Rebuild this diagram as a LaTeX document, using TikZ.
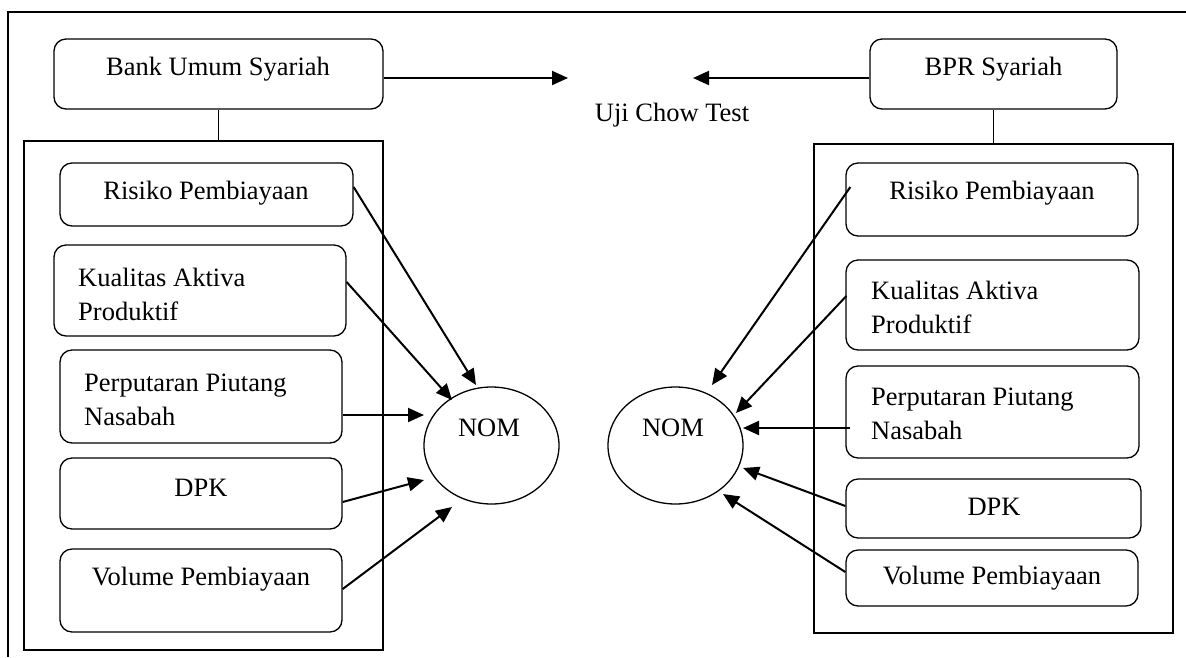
\documentclass[tikz,border=0pt]{standalone}
\usepackage{fontspec}
\setmainfont{Liberation Serif}
\usetikzlibrary{arrows.meta,shapes.geometric}
\begin{document}
\begin{tikzpicture}[x=1pt,y=-1pt,
  every node/.style={font=\fontsize{26.5}{34}\selectfont},
  sz/.style 2 args={minimum width=#1,minimum height=#2},
  box/.style={draw,rounded corners=12pt,line width=1.3pt,inner sep=0pt},
  panel/.style={draw,line width=1.4pt,inner sep=0pt},
  txt/.style={inner sep=0pt},
  multi/.style={inner sep=0pt,align=left,anchor=west},
  arr/.style={line width=2pt,-{Triangle[length=16pt,width=14pt]}},
  oval/.style={draw,ellipse,line width=1.3pt,minimum width=135pt,minimum height=117pt,inner sep=0pt}
]
\useasboundingbox (0,0) rectangle (1186,657);

% open outer frame (left and top edges)
\draw[line width=1.4pt] (8,657) -- (8,12) -- (1186,12);

% ---- left group: Bank Umum Syariah ----
\node[box,sz={329pt}{70pt}] (bank) at (218.5,74) {};
\node[txt] (bankT) at (218,69) {Bank Umum Syariah};
\node[panel,sz={359pt}{509pt}] (contL) at (203.5,395.5) {};
\node[box,sz={293pt}{63pt}] (risL) at (206.5,194.5) {};
\node[txt] (risLT) at (206,193) {Risiko Pembiayaan};
\node[box,sz={292pt}{91pt}] (kuaL) at (200,290.5) {};
\node[multi] (kuaLT) at (78,294) {Kualitas Aktiva\\Produktif};
\node[box,sz={282pt}{93pt}] (perL) at (201,396.5) {};
\node[multi] (perLT) at (84,399.5) {Perputaran Piutang\\Nasabah};
\node[box,sz={282pt}{71pt}] (dpkL) at (201,493.5) {};
\node[txt] (dpkLT) at (201,488) {DPK};
\node[box,sz={282pt}{83pt}] (volL) at (201,590.5) {};
\node[txt] (volLT) at (201,579) {Volume Pembiayaan};
\node[oval] (nomL) at (491.5,445.5) {};
\node[txt] (nomLT) at (489,428) {NOM};

% ---- right group: BPR Syariah ----
\node[box,sz={247pt}{70pt}] (bpr) at (993.5,74) {};
\node[txt] (bprT) at (993.5,69) {BPR Syariah};
\node[panel,sz={359pt}{489pt}] (contR) at (993.5,388.5) {};
\node[box,sz={292pt}{73pt}] (risR) at (992,199.5) {};
\node[txt] (risRT) at (992,193) {Risiko Pembiayaan};
\node[box,sz={293pt}{90pt}] (kuaR) at (992.5,305) {};
\node[multi] (kuaRT) at (871,307.5) {Kualitas Aktiva\\Produktif};
\node[box,sz={293pt}{92pt}] (perR) at (992.5,412) {};
\node[multi] (perRT) at (871,414) {Perputaran Piutang\\Nasabah};
\node[box,sz={295pt}{59pt}] (dpkR) at (993.5,508.5) {};
\node[txt] (dpkRT) at (994,507) {DPK};
\node[box,sz={292pt}{56pt}] (volR) at (992,578) {};
\node[txt] (volRT) at (992,578) {Volume Pembiayaan};
\node[oval] (nomR) at (675.5,445.5) {};
\node[txt] (nomRT) at (673,428) {NOM};

% ---- test in the middle ----
\node[txt] (chow) at (672,115) {Uji Chow Test};
\coordinate (tipL) at (568,78);
\coordinate (tipR) at (693,78);
\draw[arr] ([yshift=-4pt]bank.east) -- (tipL);
\draw[arr] ([yshift=-4pt]bpr.west) -- (tipR);

% stems from the bank boxes to their panels
\draw[line width=1.3pt] (bank.south) -- (bank.south |- contL.north);
\draw[line width=1.3pt] (bpr.south) -- (bpr.south |- contR.north);

% ---- left arrows into NOM ----
\draw[arr] ([yshift=7.5pt]risL.east) -- ([shift={(-15.5pt,60.5pt)}]nomL.center);
\draw[arr] ([yshift=8.5pt]kuaL.east) -- ([shift={(-39.5pt,45.5pt)}]nomL.center);
\draw[arr] ([yshift=-18.5pt]perL.east) -- ([shift={(-67.5pt,30.5pt)}]nomL.center);
\draw[arr] ([yshift=-8.5pt]dpkL.east) -- ([shift={(-67.5pt,-34.5pt)}]nomL.center);
\draw[arr] ([yshift=1.5pt]volL.east) -- ([shift={(-39.5pt,-61.5pt)}]nomL.center);

% ---- right arrows into NOM ----
\draw[arr] ([shift={(5pt,12.5pt)}]risR.west) -- ([shift={(36.5pt,60.5pt)}]nomR.center);
\draw[arr] ([shift={(1pt,9pt)}]kuaR.west) -- ([shift={(60.5pt,32.5pt)}]nomR.center);
\draw[arr] ([shift={(5pt,-16pt)}]perR.west) -- ([shift={(67.5pt,17.5pt)}]nomR.center);
\draw[arr] ([yshift=2.5pt]dpkR.west) -- ([shift={(67.5pt,-22.5pt)}]nomR.center);
\draw[arr] ([yshift=6pt]volR.west) -- ([shift={(47.5pt,-48.5pt)}]nomR.center);
\end{tikzpicture}
\end{document}
